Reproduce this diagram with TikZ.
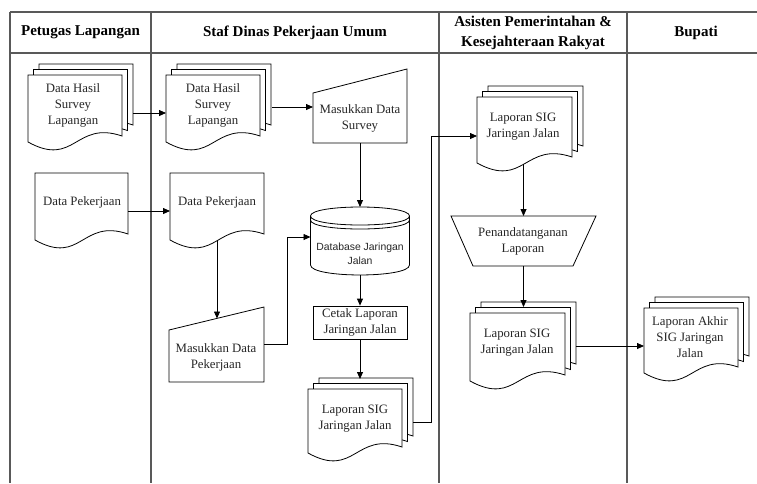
\documentclass[tikz,border=0pt]{standalone}
\usepackage{fontspec}
\setmainfont{Liberation Serif}
\setsansfont{Liberation Sans}
\usetikzlibrary{arrows.meta}
\newcommand\docshape[4]{%
  \filldraw[shp] (#1,#2) -- (#1+#3,#2) -- (#1+#3,#2+#4-6)
    .. controls (#1+0.5*#3,#2+#4-22) and (#1+0.5*#3,#2+#4+26) .. (#1,#2+#4) -- cycle;}
\newcommand\mdocshape[4]{%
  \docshape{#1+11}{#2-11}{#3}{#4}%
  \docshape{#1+5.5}{#2-5.5}{#3}{#4}%
  \docshape{#1}{#2}{#3}{#4}}
\begin{document}
\begin{tikzpicture}[x=1pt,y=-1pt,
  shp/.style={draw=black,fill=white,line width=0.8pt},
  lane/.style={draw=black!65,line width=1.1pt},
  area/.style={inner sep=0pt,outer sep=0pt},
  txt/.style={align=center,inner sep=0pt,text=black!85,font=\fontsize{12.8}{16}\selectfont},
  head/.style={align=center,inner sep=0pt,text=black,font=\fontsize{15}{20}\selectfont\bfseries},
  arr/.style={-{Triangle[length=7pt,width=6pt]},line width=0.8pt}]
\useasboundingbox (0,0) rectangle (757,483);
\fill[white] (0,0) rectangle (757,483);
% lanes
\draw[lane] (10,12) -- (757,12);
\draw[lane] (10,53) -- (757,53);
\foreach \xx in {10,151,439,627} \draw[lane] (\xx,12) -- (\xx,483);
\node[head] (h1) at (80.5,32.5) {Petugas Lapangan};
\node[head] (h2) at (295,32.5) {Staf Dinas Pekerjaan Umum};
\node[head] (h3) at (533,32.5) {Asisten Pemerintahan \&\\Kesejahteraan Rakyat};
\node[head] (h4) at (696,32.5) {Bupati};
% Petugas Lapangan
\mdocshape{28}{75}{94}{67}
\node[area,minimum width=94pt,minimum height=67pt] (Lsurv) at (75,108.5) {};
\node[txt] (Lsurvt) at (73,105) {Data Hasil\\Survey\\Lapangan};
\docshape{35}{173}{93}{67}
\node[area,minimum width=93pt,minimum height=67pt] (Lpek) at (81.5,206.5) {};
\node[txt] (Lpekt) at (82,202) {Data Pekerjaan};
% Staf
\mdocshape{166}{75}{94}{67}
\node[area,minimum width=94pt,minimum height=67pt] (Msurv) at (213,108.5) {};
\node[txt] (Msurvt) at (213,105) {Data Hasil\\Survey\\Lapangan};
\docshape{170}{173}{94}{67}
\node[area,minimum width=94pt,minimum height=67pt] (Mpek) at (217,206.5) {};
\node[txt] (Mpekt) at (217,202) {Data Pekerjaan};
\filldraw[shp] (313,93) -- (407,69) -- (407,143) -- (313,143) -- cycle;
\node[area,minimum width=94pt,minimum height=74pt] (MasukS) at (360,106) {};
\node[txt] (MasukSt) at (360,118) {Masukkan Data\\Survey};
\filldraw[shp] (169,330) -- (264,307) -- (264,382) -- (169,382) -- cycle;
\node[area,minimum width=95pt,minimum height=75pt] (MasukP) at (216.5,344.5) {};
\node[txt] (MasukPt) at (216,357) {Masukkan Data\\Pekerjaan};
% database
\filldraw[shp] (310.5,216) .. controls (310.5,204) and (409.5,204) .. (409.5,216)
  -- (409.5,265) .. controls (409.5,278.3) and (310.5,278.3) .. (310.5,265) -- cycle;
\draw[shp,fill=none] (310.5,216) .. controls (310.5,228) and (409.5,228) .. (409.5,216);
\draw[shp,fill=none] (310.5,220) .. controls (310.5,232) and (409.5,232) .. (409.5,220);
\node[area,minimum width=99pt,minimum height=68pt] (DB) at (360,241) {};
\node[txt,font=\sffamily\fontsize{10.4}{14}\selectfont] (DBt) at (360,254) {Database Jaringan\\Jalan};
\node[shp,txt,minimum width=94pt,minimum height=33pt] (Cetak) at (360,322.5) {Cetak Laporan\\Jaringan Jalan};
\mdocshape{308}{389}{94}{64}
\node[area,minimum width=94pt,minimum height=64pt] (Mlap) at (355,421) {};
\node[txt] (Mlapt) at (355,419) {Laporan SIG\\Jaringan Jalan};
% Asisten
\mdocshape{477}{97}{95}{66}
\node[area,minimum width=95pt,minimum height=66pt] (Alap) at (524.5,130) {};
\node[txt] (Alapt) at (523,127) {Laporan SIG\\Jaringan Jalan};
\filldraw[shp] (451,216) -- (596,216) -- (573,266) -- (473,266) -- cycle;
\node[area,minimum width=145pt,minimum height=50pt] (Pen) at (523.5,241) {};
\node[txt] (Pent) at (523,241) {Penandatanganan\\Laporan};
\mdocshape{470}{313}{95}{68}
\node[area,minimum width=95pt,minimum height=68pt] (Alap2) at (517.5,347) {};
\node[txt] (Alap2t) at (517,343) {Laporan SIG\\Jaringan Jalan};
% Bupati
\mdocshape{644}{308}{94}{65}
\node[area,minimum width=94pt,minimum height=65pt] (Blap) at (691,340.5) {};
\node[txt] (Blapt) at (690,337) {Laporan Akhir\\SIG Jaringan\\Jalan};
% connectors
\draw[arr] ([xshift=11pt,yshift=-4.5pt]Lsurv.east) -- ([yshift=-4.5pt]Msurv.west);
\draw[arr] ([xshift=12pt,yshift=1.5pt]Msurv.east) -- ([yshift=1.5pt]Msurv.east -| MasukS.west);
\draw[arr] ([yshift=-4.5pt]Lpek.east) -- ([yshift=-4.5pt]Mpek.west);
\draw[arr] (MasukS.south) -- (DB.north);
\draw[arr] ([yshift=-1pt]Mpek.south) -- ([yshift=-11.5pt]Mpek.south |- MasukP.north);
\draw[arr] (MasukP.east) -- ++(23,0) |- ([yshift=4pt]DB.west);
\draw[arr] (DB.south) -- (Cetak.north);
\draw[arr] (Cetak.south) -- ([yshift=10pt]Cetak.south |- Mlap.north);
\draw[arr] ([xshift=11pt,yshift=-1pt]Mlap.east) -- ++(18,0) |- ([yshift=-6pt]Alap.west);
\draw[arr] ([yshift=-1pt]Alap.south -| Pen.north) -- (Pen.north);
\draw[arr] (Pen.south) -- ([yshift=6pt]Pen.south |- Alap2.north);
\draw[arr] ([xshift=11pt,yshift=1pt]Alap2.east) -- ([yshift=1pt]Alap2.east -| Blap.west);
\end{tikzpicture}
\end{document}
